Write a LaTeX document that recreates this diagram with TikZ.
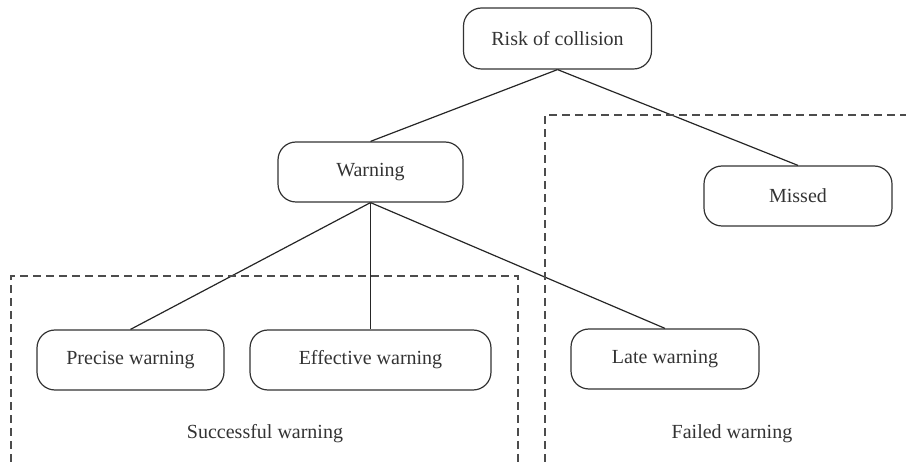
\documentclass[tikz,border=0pt]{standalone}
\usepackage{fontspec}
\setmainfont{Liberation Serif}
\begin{document}
\begin{tikzpicture}[x=1pt,y=-1pt,
  box/.style={draw=black!80, line width=1.2pt, rounded corners=18pt, minimum height=60pt, align=center, inner sep=0pt, font=\fontsize{20}{22}\selectfont, text=black!80},
  link/.style={draw=black!85, line width=1.2pt},
  region/.style={draw=black!70, line width=1.2pt, dash pattern=on 8pt off 5pt},
  lbl/.style={font=\fontsize{20}{22}\selectfont, text=black!80, inner sep=0pt}]
\useasboundingbox (0,0) rectangle (906,462);
\node[box, minimum width=188pt, minimum height=61pt] (risk) at (557.5,38.5) {Risk of collision};
\node[box, minimum width=185pt] (warn) at (370.5,172) {Warning};
\node[box, minimum width=188pt] (missed) at (798,196) {Missed};
\node[box, minimum width=187pt] (precise) at (130.5,360) {Precise warning};
\node[box, minimum width=241pt] (effective) at (370.5,360) {Effective warning};
\node[box, minimum width=188pt] (late) at (665,359) {Late warning};
\draw[link] (risk.south) -- (warn.north);
\draw[link] (risk.south) -- (missed.north);
\draw[link] (warn.south) -- (precise.north);
\draw[link] (warn.south) -- (effective.north);
\draw[link] (warn.south) -- (late.north);
\coordinate (sA) at (11,462);
\coordinate (sB) at (11,276);
\coordinate (sC) at (518,276);
\coordinate (sD) at (518,462);
\draw[region] (sA) -- (sB) -- (sC) -- (sD);
\coordinate (fA) at (545,462);
\coordinate (fB) at (545,115);
\coordinate (fC) at (906,115);
\draw[region] (fA) -- (fB) -- (fC);
\node[lbl] (succ) at (265,434) {Successful warning};
\node[lbl] (fail) at (732,434) {Failed warning};
\end{tikzpicture}
\end{document}
